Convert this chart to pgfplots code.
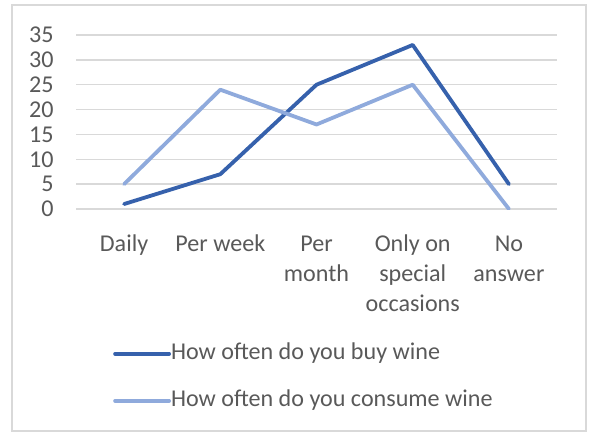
\documentclass[border=0pt]{standalone}
\usepackage{pgfplots}
\pgfplotsset{compat=1.18}
\usepackage{fontspec}
\setmainfont{Carlito}
\definecolor{buyc}{HTML}{3661AC}
\definecolor{consc}{HTML}{8FAADC}
\definecolor{gridc}{HTML}{D9D9D9}
\definecolor{txtc}{HTML}{595959}
\begin{document}
\begin{tikzpicture}[x=1bp,y=1bp]
\useasboundingbox (0,0) rectangle (592,432);
\draw[gridc, line width=1.3bp] (12,1) rectangle (586,427);
\begin{axis}[
  at={(76bp,223bp)}, anchor=south west,
  scale only axis, width=481bp, height=174bp,
  xmin=-0.5, xmax=4.5, ymin=0, ymax=35,
  ytick={0,5,...,35},
  xtick={0,1,2,3,4},
  xticklabels={\strut Daily,\strut Per week,\strut Per\\month,\strut Only on\\special\\occasions,\strut No\\answer},
  x tick label style={anchor=north, align=center, text=txtc, font=\fontsize{24.2}{30}\selectfont, yshift=-18bp},
  y tick label style={text=txtc, font=\fontsize{24.2}{28}\selectfont, xshift=-19bp},
  /pgf/number format/assume math mode=true,
  axis line style={draw=none},
  major tick length=0pt,
  ymajorgrids, grid style={gridc, line width=1.3bp},
  legend style={draw=none, fill=none, at={(axis description cs:0,0)}, anchor=north west,
     xshift=37bp, yshift=-133bp, inner sep=0pt, row sep=24bp,
     nodes={inner sep=0pt, text height=17bp, text depth=6bp, text=txtc, font=\fontsize{24.2}{28}\selectfont}},
  legend cell align=left,
  legend image code/.code={\draw[#1] (0bp,0bp) -- (54bp,0bp);},
  /tikz/every even column/.append style={column sep=5bp},
]
\addplot[buyc, line width=3.8bp, line cap=round, line join=round] coordinates {(0,1) (1,7) (2,25) (3,33) (4,5)};
\addlegendentry{How often do you buy wine}
\addplot[consc, line width=3.8bp, line cap=round, line join=round] coordinates {(0,5) (1,24) (2,17) (3,25) (4,0)};
\addlegendentry{How often do you consume wine}
\end{axis}
\end{tikzpicture}
\end{document}
